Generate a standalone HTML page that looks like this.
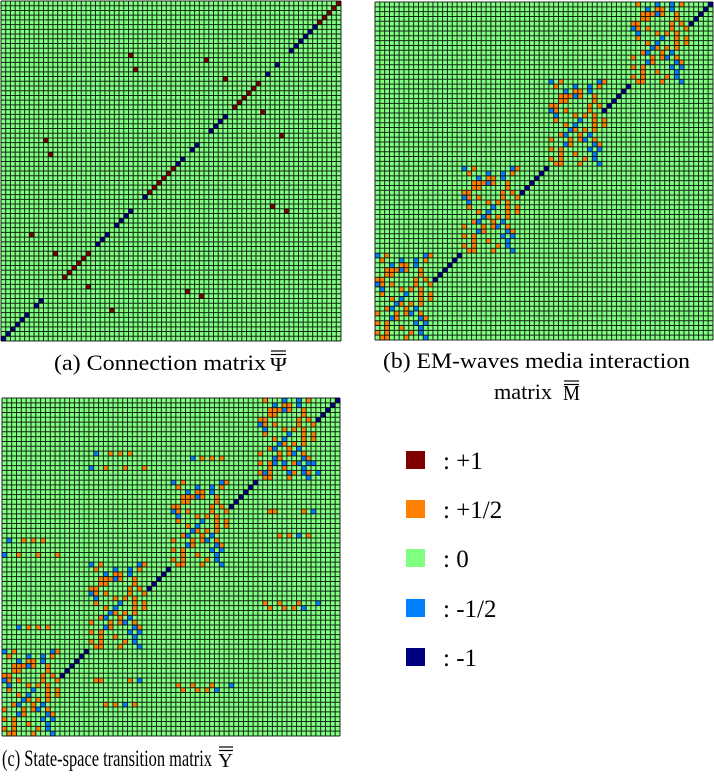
<!DOCTYPE html>
<html><head><meta charset="utf-8"><style>
html,body{margin:0;padding:0;background:#fff;}
svg{display:block;}
text{font-family:"Liberation Serif",serif;fill:#000;}
</style></head><body>
<svg id="fig" width="714" height="780" viewBox="0 0 714 780">
<g id="panelA"></g>
<g id="panelB"></g>
<g id="panelC"></g>

<g>
<text x="54" y="370" font-size="22" textLength="212" lengthAdjust="spacingAndGlyphs">(a) Connection matrix</text>
<text x="270" y="371" font-size="20" textLength="17" lengthAdjust="spacingAndGlyphs">Ψ</text>
<line x1="271" y1="351" x2="286" y2="351" stroke="#000" stroke-width="1.2"/>
<line x1="271" y1="354.5" x2="286" y2="354.5" stroke="#000" stroke-width="1.2"/>
</g>
<g>
<text x="383" y="368" font-size="22" textLength="307" lengthAdjust="spacingAndGlyphs">(b) EM-waves media interaction</text>
<text x="494" y="399" font-size="22" textLength="58" lengthAdjust="spacingAndGlyphs">matrix</text>
<text x="563" y="400" font-size="21" textLength="17" lengthAdjust="spacingAndGlyphs">M</text>
<line x1="564" y1="381" x2="579" y2="381" stroke="#000" stroke-width="1.2"/>
<line x1="564" y1="384.5" x2="579" y2="384.5" stroke="#000" stroke-width="1.2"/>
</g>
<g>
<text x="2" y="766" font-size="23" textLength="210" lengthAdjust="spacingAndGlyphs">(c) State-space transition matrix</text>
<text x="218" y="767" font-size="20" textLength="15" lengthAdjust="spacingAndGlyphs">Y</text>
<line x1="219" y1="747" x2="233" y2="747" stroke="#000" stroke-width="1.2"/>
<line x1="219" y1="750.5" x2="233" y2="750.5" stroke="#000" stroke-width="1.2"/>
</g>
<g id="legend"></g>
</svg>
<script>
// ---- color scale ----
var legendValues = [1, 0.5, 0, -0.5, -1];
var legendLabels = [": +1", ": +1/2", ": 0", ":  -1/2", ": -1"];
var legendColors = ["#800000", "#ff8000", "#80ff80", "#0080ff", "#000080"];

// ---- panel (a): connection matrix, 72x72 ----
var aSize = 72;
// anti-diagonal values, indexed by row (col = 71 - row)
var aDiag = [1,1,1,1,1,-1,-1,-1,-1,-1,-1,0,0,-1,0,-1,0,1,1,1,1,1,1,0,-1,-1,-1,-1,0,0,-1,-1,0,-1,-1,1,1,1,1,1,1,-1,0,0,-1,-1,-1,-1,0,-1,-1,-1,0,1,1,1,1,1,1,0,0,0,0,-1,-1,0,-1,-1,-1,-1,-1,-1];
var aOffRow = [11,14,12,16,23,28,29,32,49,53,60,65,43,44,61,62];
var aOffCol = [27,28,43,47,55,59,9,10,6,11,18,23,57,60,39,42];
var aOffVal = [1,1,1,1,1,1,1,1,1,1,1,1,1,1,1,1];

// ---- shared block pattern for (b),(c) ----
var blockPattern = [
"b.o.......bo.",
".o...b..b.o..",
"...b.oo.b....",
"..ooobo..o...",
"..oo.....o...",
"oo......o.o..",
"bo.o....o..o.",
".b...o.o.o...",
".o....b..o.o.",
"...o.b...o.o.",
"....bo.o.o...",
"..ob..o.b....",
"o...o.ob.o...",
"...bo....bo..",
"o.o.....b.b..",
"..o..o...b...",
"o.o....o.b...",
".oo...o...b.."
];
// ---- panel (b): 70x70 ----
var bSize = 70;
var bBlockCol = [0, 18, 36, 53];
var bBlockRow = [52, 34, 16, -1];
var bDiagRows = [0,1,2,3,4,17,18,19,20,21,22,34,35,36,37,38,39,52,53,54,55,56,57];

// ---- panel (c): 70x70 ----
var cSize = 70;
var cBlockCol = [0, 18, 35, 53];
var cBlockRow = [52, 34, 17, -1];
var cDiagRows = [0,1,2,3,4,17,18,19,20,21,22,35,36,37,38,39,52,53,54,55,56,57];
var cOffRow = [11,11,11,11,14,14,14,14,12,12,12,12,13,13,13,13,15,15,15,15,23,23,23,23,28,28,28,28,29,29,29,29,32,32,32,32,42,42,42,42,43,43,43,43,47,47,47,47,58,58,58,58,59,59,59,59,60,60,60,60,63,63,63,63];
var cOffCol = [19,22,24,26,18,21,25,29,39,41,43,45,56,58,60,64,54,59,63,65,55,56,62,64,57,59,61,63,1,4,6,8,0,3,7,11,54,57,61,65,55,58,60,62,3,5,7,9,19,20,26,28,36,39,43,47,37,40,42,44,21,23,25,27];
var cOffVal = [-0.5,0.5,0.5,0.5,-0.5,0.5,0.5,0.5,-0.5,0.5,0.5,0.5,-0.5,-0.5,0.5,-0.5,-0.5,-0.5,0.5,-0.5,0.5,0.5,0.5,-0.5,0.5,0.5,-0.5,0.5,-0.5,0.5,0.5,0.5,-0.5,0.5,0.5,0.5,0.5,0.5,0.5,-0.5,0.5,0.5,0.5,-0.5,-0.5,0.5,0.5,0.5,0.5,0.5,0.5,-0.5,0.5,0.5,0.5,-0.5,0.5,0.5,0.5,-0.5,0.5,0.5,-0.5,0.5];

var NS = "http://www.w3.org/2000/svg";
function colorOf(v){ var i = legendValues.indexOf(v); return i < 0 ? legendColors[2] : legendColors[i]; }
function charVal(ch){ return ch === "o" ? 0.5 : (ch === "b" ? -0.5 : (ch === "R" ? 1 : (ch === "D" ? -1 : 0))); }

function drawMatrix(g, x0, y0, size, N, cells, prefix){
  var cw = size / N;
  function sx(c){ return x0 + c * cw; }
  function sy(r){ return y0 + r * cw; }
  var bg = document.createElementNS(NS, "rect");
  bg.setAttribute("x", x0); bg.setAttribute("y", y0);
  bg.setAttribute("width", size); bg.setAttribute("height", size);
  bg.setAttribute("fill", legendColors[2]);
  
  
  g.appendChild(bg);
  cells.forEach(function(cell){
    var r = cell[0], c = cell[1], v = cell[2];
    if (r < 0 || c < 0 || r >= N || c >= N || v === 0) return;
    var rc = document.createElementNS(NS, "rect");
    rc.setAttribute("x", sx(c)); rc.setAttribute("y", sy(r));
    rc.setAttribute("width", cw); rc.setAttribute("height", cw);
    rc.setAttribute("fill", colorOf(v));
    
    
    g.appendChild(rc);
  });
  var d = "";
  for (var i = 0; i <= N; i++){
    var p = x0 + i * cw, q = y0 + i * cw;
    d += "M" + p.toFixed(2) + " " + y0 + "V" + (y0 + size) + "M" + x0 + " " + q.toFixed(2) + "H" + (x0 + size);
  }
  var gl = document.createElementNS(NS, "path");
  gl.setAttribute("d", d);
  gl.setAttribute("stroke", "#000"); gl.setAttribute("stroke-opacity", "0.85");
  gl.setAttribute("stroke-width", "1"); gl.setAttribute("fill", "none");
  
  
  g.appendChild(gl);
}

function blockCells(cols, rows, diagRows, N){
  var cells = [];
  for (var b = 0; b < cols.length; b++){
    for (var r = 0; r < blockPattern.length; r++){
      for (var c = 0; c < blockPattern[r].length; c++){
        var v = charVal(blockPattern[r].charAt(c));
        if (v !== 0) cells.push([rows[b] + r, cols[b] + c, v]);
      }
    }
  }
  diagRows.forEach(function(r){ cells.push([r, N - 1 - r, -1]); });
  return cells;
}

// panel a
var aCells = [];
aDiag.forEach(function(v, r){ if (v !== 0) aCells.push([r, aSize - 1 - r, v]); });
aOffRow.forEach(function(r, i){ aCells.push([r, aOffCol[i], aOffVal[i]]); });
drawMatrix(document.getElementById("panelA"), 1, 1, 340, aSize, aCells, "panel-a");

// panel b
drawMatrix(document.getElementById("panelB"), 375, 2, 338, bSize, blockCells(bBlockCol, bBlockRow, bDiagRows, bSize), "panel-b");

// panel c
var cCells = blockCells(cBlockCol, cBlockRow, cDiagRows, cSize);
cOffRow.forEach(function(r, i){ cCells.push([r, cOffCol[i], cOffVal[i]]); });
drawMatrix(document.getElementById("panelC"), 2, 398, 338, cSize, cCells, "panel-c");

// legend
var lg = document.getElementById("legend");
var legendTops = [451, 500, 549, 599, 648];
legendValues.forEach(function(v, i){
  var sw = document.createElementNS(NS, "rect");
  sw.setAttribute("x", 406); sw.setAttribute("y", legendTops[i]);
  sw.setAttribute("width", 19); sw.setAttribute("height", 18);
  sw.setAttribute("fill", legendColors[i]);
  
  
  lg.appendChild(sw);
  var t = document.createElementNS(NS, "text");
  t.setAttribute("x", 443); t.setAttribute("y", legendTops[i] + 18);
  t.setAttribute("font-size", "25");
  t.setAttribute("xml:space", "preserve");
  t.textContent = legendLabels[i];
  
  
  lg.appendChild(t);
});
</script>
</body></html>
